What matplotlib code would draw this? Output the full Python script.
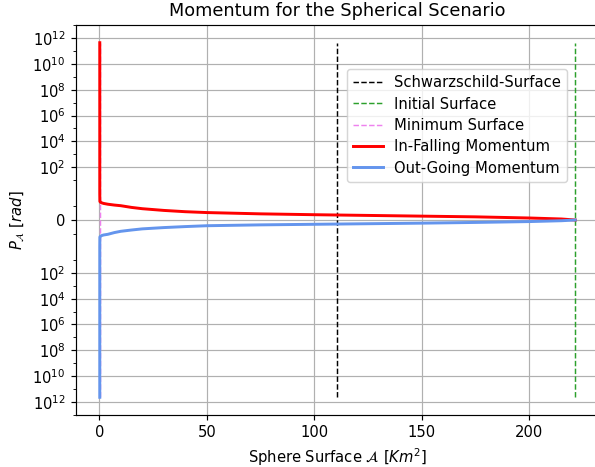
import matplotlib
matplotlib.use("Agg")
import matplotlib.pyplot as plt
import numpy as np

# Data
area_in = [0.25, 0.25, 0.3, 0.6, 1, 2, 4, 7, 10, 15, 20, 30, 40, 50, 75, 100, 125, 150, 175, 200, 215, 221.4]
p_in = [4.5e11, 1.0, 0.21, 0.185, 0.17, 0.15, 0.13, 0.112, 0.1, 0.088, 0.079, 0.067, 0.058, 0.052,
        0.043, 0.037, 0.032, 0.027, 0.022, 0.014, 0.007, 0.0]
area_out = [0.25, 0.25, 0.3, 0.6, 1, 2, 4, 7, 10, 15, 20, 30, 40, 50, 75, 100, 125, 150, 175, 200, 215, 221.4]
p_out = [-4.5e11, -1.0, -0.16, -0.14, -0.128, -0.113, -0.1, -0.088, -0.079, -0.07, -0.062, -0.053,
         -0.046, -0.04, -0.034, -0.03, -0.026, -0.022, -0.017, -0.011, -0.005, 0.0]

schwarzschild_surface = 110.7
initial_surface = 221.4
minimum_surface = 0.25
vline_extent = 4.5e11

major_exps = [2, 4, 6, 8, 10, 12]
minor_exps = [-1, 1, 3, 5, 7, 9, 11, 13]

DPI = 106
W, H = 595, 467
fig = plt.figure(figsize=(W / DPI, H / DPI), dpi=DPI)
left_px, right_px, top_px, bottom_px = 76, 599, 25, 415
ax = fig.add_axes([left_px / W, (H - bottom_px) / H, (right_px - left_px) / W, (bottom_px - top_px) / H])

ax.vlines(schwarzschild_surface, -vline_extent, vline_extent, colors='k', linestyles='--',
          linewidth=1, label='Schwarzschild-Surface')
ax.vlines(initial_surface, -vline_extent, vline_extent, colors='tab:green', linestyles='--',
          linewidth=1, label='Initial Surface')
ax.vlines(minimum_surface, -vline_extent, vline_extent, colors='violet', linestyles='--',
          linewidth=1, label='Minimum Surface')
ax.plot(area_in, p_in, color='red', linewidth=2, label='In-Falling Momentum')
ax.plot(area_out, p_out, color='cornflowerblue', linewidth=2, label='Out-Going Momentum')

ax.set_yscale('symlog', linthresh=0.1)
majors = [-10.0 ** e for e in major_exps[::-1]] + [0] + [10.0 ** e for e in major_exps]
labels = [r'$10^{%d}$' % e for e in major_exps[::-1]] + ['0'] + [r'$10^{%d}$' % e for e in major_exps]
ax.set_yticks(majors)
ax.set_yticklabels(labels)
minors = [-10.0 ** e for e in minor_exps] + [10.0 ** e for e in minor_exps]
ax.set_yticks(minors, minor=True)

ax.grid(True)
ax.set_title('Momentum for the Spherical Scenario')
ax.set_xlabel(r'Sphere Surface $\mathcal{A}$ $[Km^2]$')
ax.set_ylabel(r'$P_{\mathcal{A}}$ $[rad]$')
ax.legend(loc='upper right', bbox_to_anchor=(0.953, 0.905), labelspacing=0.43)

fig.savefig('out.png', dpi=DPI)
